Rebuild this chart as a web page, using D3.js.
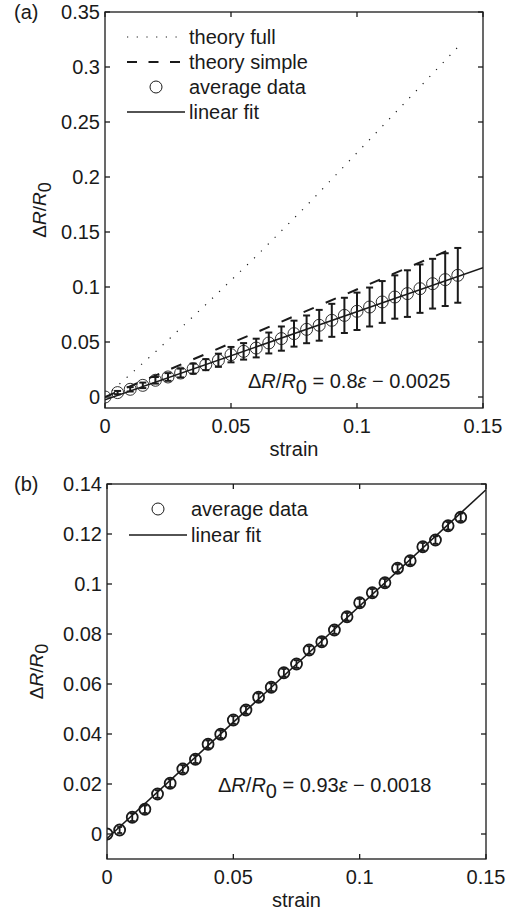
<!DOCTYPE html>
<html>
<head>
<meta charset="utf-8">
<script src="https://cdn.jsdelivr.net/npm/d3@7/dist/d3.min.js"></script>
<style>
  html, body { margin: 0; padding: 0; background: #fff; }
  svg { display: block; }
  text { font-family: "Liberation Sans", Arial, Helvetica, sans-serif; fill: #1a1a1a; }
</style>
</head>
<body>
<svg id="chart" width="509" height="914"></svg>
<script>
// ---------- data ----------
const strain = [0, 0.005, 0.01, 0.015, 0.02, 0.025, 0.03, 0.035, 0.04, 0.045, 0.05, 0.055, 0.06, 0.065, 0.07,
                0.075, 0.08, 0.085, 0.09, 0.095, 0.1, 0.105, 0.11, 0.115, 0.12, 0.125, 0.13, 0.135, 0.14];

// panel (a)
const avgA = [0, 0.004, 0.007, 0.0106, 0.0152, 0.0182, 0.0218, 0.0258, 0.0294, 0.0334, 0.0385, 0.0415, 0.0445, 0.0491, 0.0531,
              0.0576, 0.0615, 0.0652, 0.0697, 0.0742, 0.0779, 0.0818, 0.0864, 0.0909, 0.094, 0.0985, 0.103, 0.1067, 0.1106];
const errA = [0, 0.0015, 0.002, 0.0025, 0.003, 0.0035, 0.004, 0.0045, 0.005, 0.006, 0.007, 0.0075, 0.0085, 0.0095, 0.011,
              0.0118, 0.0126, 0.014, 0.015, 0.016, 0.017, 0.0177, 0.019, 0.0197, 0.0212, 0.022, 0.0226, 0.024, 0.0249];
const theoryFullX = [0, 0.02, 0.04, 0.06, 0.08, 0.1, 0.12, 0.14];
const theoryFullY = [0, 0.041, 0.084, 0.128, 0.174, 0.222, 0.270, 0.318];
const theorySimpleX = [0, 0.14];
const theorySimpleY = [0, 0.137];
const fitAX = [0, 0.15];
const fitAY = [-0.0025, 0.1175];

// panel (b)
const avgB = [0, 0.0016, 0.0067, 0.0099, 0.016, 0.0203, 0.026, 0.0299, 0.0359, 0.0399, 0.0456, 0.0496, 0.0547, 0.0587, 0.0645,
              0.068, 0.0736, 0.0769, 0.0816, 0.0869, 0.0925, 0.0965, 0.1005, 0.1063, 0.1093, 0.1149, 0.1176, 0.1233, 0.1267];
const errB = [0, 0.0012, 0.0015, 0.0015, 0.0015, 0.0015, 0.0015, 0.0015, 0.0015, 0.0015, 0.0015, 0.0015, 0.0015, 0.0015, 0.0015,
              0.0015, 0.0015, 0.0015, 0.0015, 0.0015, 0.0015, 0.0015, 0.0015, 0.0015, 0.0015, 0.0015, 0.0015, 0.0015, 0.0015];
const fitBX = [0, 0.15];
const fitBY = [-0.0018, 0.1377];

// ticks
const xTicks = [0, 0.05, 0.1, 0.15];
const xTickLabels = ["0", "0.05", "0.1", "0.15"];
const yTicksA = [0, 0.05, 0.1, 0.15, 0.2, 0.25, 0.3, 0.35];
const yTickLabelsA = ["0", "0.05", "0.1", "0.15", "0.2", "0.25", "0.3", "0.35"];
const yTicksB = [0, 0.02, 0.04, 0.06, 0.08, 0.1, 0.12, 0.14];
const yTickLabelsB = ["0", "0.02", "0.04", "0.06", "0.08", "0.1", "0.12", "0.14"];

const legendA = ["theory full", "theory simple", "average data", "linear fit"];
const legendB = ["average data", "linear fit"];

// ---------- drawing ----------
const svg = d3.select("#chart");
const FS = 20;
const INK = "#1a1a1a";

function panel(cfg) {
  const g = svg.append("g");
  const x = d3.scaleLinear().domain([0, 0.15]).range([cfg.left, cfg.right]);
  const y = d3.scaleLinear().domain(cfg.yDomain).range([cfg.bottom, cfg.top]);
  const line = d3.line().x(d => x(d[0])).y(d => y(d[1]));

  const cid = "clip" + cfg.id;
  svg.append("clipPath").attr("id", cid).append("rect")
    .attr("x", cfg.left).attr("y", cfg.top)
    .attr("width", cfg.right - cfg.left).attr("height", cfg.bottom - cfg.top);

  const plot = g.append("g").attr("clip-path", `url(#${cid})`);

  if (cfg.theoryFull) {
    plot.append("path").datum(d3.zip(theoryFullX, theoryFullY))
      .attr("d", line).attr("fill", "none").attr("stroke", INK)
      .attr("stroke-width", 1.2).attr("stroke-dasharray", "1.2,8.5");
  }
  if (cfg.theorySimple) {
    plot.append("path").datum(d3.zip(theorySimpleX, theorySimpleY))
      .attr("d", line).attr("fill", "none").attr("stroke", INK)
      .attr("stroke-width", 2).attr("stroke-dasharray", "11,13");
  }

  const pts = d3.zip(strain, cfg.avg, cfg.err);
  const capW = cfg.capW;
  const eb = plot.append("g").attr("stroke", INK).attr("stroke-width", cfg.ebW).attr("fill", "none");
  pts.forEach(([s, v, e]) => {
    if (e <= 0) return;
    const cx = x(s), y1 = y(v + e), y2 = y(v - e);
    eb.append("line").attr("x1", cx).attr("x2", cx).attr("y1", y1).attr("y2", y2);
    eb.append("line").attr("x1", cx - capW).attr("x2", cx + capW).attr("y1", y1).attr("y2", y1);
    eb.append("line").attr("x1", cx - capW).attr("x2", cx + capW).attr("y1", y2).attr("y2", y2);
  });

  plot.append("g").selectAll("circle").data(pts).join("circle")
    .attr("cx", d => x(d[0])).attr("cy", d => y(d[1])).attr("r", cfg.r)
    .attr("fill", "none").attr("stroke", INK).attr("stroke-width", cfg.cW);

  plot.append("path").datum(d3.zip(cfg.fitX, cfg.fitY))
    .attr("d", line).attr("fill", "none").attr("stroke", INK).attr("stroke-width", 1.6);

  const tl = 5;
  const ax = g.append("g").attr("stroke", INK).attr("stroke-width", 1.3);
  xTicks.forEach(t => {
    ax.append("line").attr("x1", x(t)).attr("x2", x(t)).attr("y1", cfg.bottom).attr("y2", cfg.bottom - tl);
    ax.append("line").attr("x1", x(t)).attr("x2", x(t)).attr("y1", cfg.top).attr("y2", cfg.top + tl);
  });
  cfg.yTicks.forEach(t => {
    ax.append("line").attr("x1", cfg.left).attr("x2", cfg.left + tl).attr("y1", y(t)).attr("y2", y(t));
    ax.append("line").attr("x1", cfg.right).attr("x2", cfg.right - tl).attr("y1", y(t)).attr("y2", y(t));
  });
  ax.append("rect").attr("x", cfg.left).attr("y", cfg.top)
    .attr("width", cfg.right - cfg.left).attr("height", cfg.bottom - cfg.top).attr("fill", "none");

  xTicks.forEach((t, i) => {
    g.append("text").attr("x", x(t)).attr("y", cfg.bottom + 25).attr("text-anchor", "middle")
      .attr("font-size", FS).text(xTickLabels[i]);
  });
  cfg.yTicks.forEach((t, i) => {
    g.append("text").attr("x", cfg.left - 5).attr("y", y(t)).attr("dy", "0.36em").attr("text-anchor", "end")
      .attr("font-size", FS).text(cfg.yTickLabels[i]);
  });

  g.append("text").attr("x", (cfg.left + cfg.right) / 2).attr("y", cfg.bottom + 48)
    .attr("text-anchor", "middle").attr("font-size", FS).text("strain");
  const yl = g.append("text").attr("transform", `translate(${cfg.yLabelX},${(cfg.top + cfg.bottom) / 2}) rotate(-90)`)
    .attr("text-anchor", "middle").attr("font-size", FS - 1);
  yl.append("tspan").text("\u0394");
  yl.append("tspan").attr("font-style", "italic").text("R");
  yl.append("tspan").text("/");
  yl.append("tspan").attr("font-style", "italic").text("R");
  yl.append("tspan").attr("dy", "0.3em").attr("font-size", FS * 0.9).text("0");

  g.append("text").attr("x", 14).attr("y", cfg.top).attr("dy", "0.36em").attr("font-size", FS).text(cfg.label);

  const eq = g.append("text").attr("x", cfg.eqX).attr("y", cfg.eqY).attr("font-size", FS);
  eq.append("tspan").text("\u0394");
  eq.append("tspan").attr("font-style", "italic").text("R");
  eq.append("tspan").text("/");
  eq.append("tspan").attr("font-style", "italic").text("R");
  eq.append("tspan").attr("dy", "0.3em").text("0");
  eq.append("tspan").attr("dy", "-0.3em").text(" = " + cfg.eqSlope);
  eq.append("tspan").attr("font-style", "italic").text("\u03b5");
  eq.append("tspan").text(" \u2212 " + cfg.eqInt);

  const lg = g.append("g");
  cfg.legend.forEach((name, i) => {
    const ly = cfg.legY + i * cfg.legStep;
    const x1 = cfg.legX1, x2 = cfg.legX2;
    if (name === "theory full") {
      lg.append("line").attr("x1", x1).attr("x2", x2).attr("y1", ly).attr("y2", ly)
        .attr("stroke", INK).attr("stroke-width", 1.2).attr("stroke-dasharray", "1.2,8.5");
    } else if (name === "theory simple") {
      lg.append("line").attr("x1", x1).attr("x2", x2).attr("y1", ly).attr("y2", ly)
        .attr("stroke", INK).attr("stroke-width", 2).attr("stroke-dasharray", "10,11.5");
    } else if (name === "average data") {
      lg.append("circle").attr("cx", (x1 + x2) / 2).attr("cy", ly).attr("r", 6)
        .attr("fill", "none").attr("stroke", INK).attr("stroke-width", 1);
    } else {
      lg.append("line").attr("x1", x1).attr("x2", x2).attr("y1", ly).attr("y2", ly)
        .attr("stroke", INK).attr("stroke-width", 1.6);
    }
    lg.append("text").attr("x", x2 + 4).attr("y", ly).attr("dy", "0.36em").attr("font-size", FS).text(name);
  });
}

panel({
  id: "a", label: "(a)", left: 105, right: 483, top: 12, bottom: 408, yDomain: [-0.01, 0.35],
  yTicks: yTicksA, yTickLabels: yTickLabelsA, avg: avgA, err: errA, fitX: fitAX, fitY: fitAY,
  theoryFull: true, theorySimple: true, r: 6, cW: 0.9, ebW: 2, capW: 3.5,
  yLabelX: 46, eqX: 248, eqY: 388, eqSlope: "0.8", eqInt: "0.0025",
  legend: legendA, legX1: 127, legX2: 185, legY: 37, legStep: 25
});

panel({
  id: "b", label: "(b)", left: 107, right: 486, top: 484, bottom: 859, yDomain: [-0.01, 0.14],
  yTicks: yTicksB, yTickLabels: yTickLabelsB, avg: avgB, err: errB, fitX: fitBX, fitY: fitBY,
  theoryFull: false, theorySimple: false, r: 5.5, cW: 1.8, ebW: 1.8, capW: 2.5,
  yLabelX: 43, eqX: 218, eqY: 792, eqSlope: "0.93", eqInt: "0.0018",
  legend: legendB, legX1: 129, legX2: 187, legY: 509, legStep: 26
});
</script>
</body>
</html>
